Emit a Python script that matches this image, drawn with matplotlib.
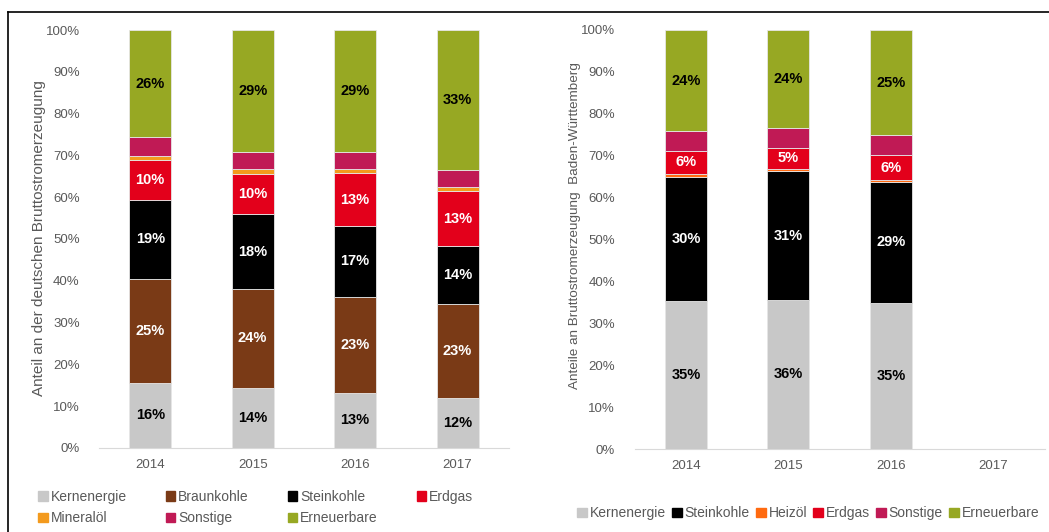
import matplotlib
matplotlib.use("Agg")
import matplotlib.pyplot as plt
from matplotlib.lines import Line2D
from matplotlib.patches import Patch
import numpy as np

plt.rcParams['font.family'] = ['Liberation Sans', 'DejaVu Sans']

# data (percent of gross electricity generation)
years = ['2014', '2015', '2016', '2017']

de_kern = [15.6, 14.4, 13.2, 11.9]
de_braun = [24.9, 23.7, 23.0, 22.6]
de_stein = [18.9, 17.8, 16.9, 13.7]
de_erdgas = [9.6, 9.6, 12.6, 13.3]
de_mineral = [0.8, 1.2, 1.0, 0.9]
de_sonst = [4.5, 4.0, 4.2, 4.2]
de_ern = [25.8, 29.3, 29.1, 33.4]

bw_kern = [35.4, 35.6, 34.9, np.nan]
bw_stein = [29.5, 30.6, 28.9, np.nan]
bw_heizoel = [0.7, 0.5, 0.3, np.nan]
bw_erdgas = [5.6, 5.2, 6.0, np.nan]
bw_sonst = [4.6, 4.6, 4.7, np.nan]
bw_ern = [24.2, 23.5, 25.2, np.nan]

C_KERN = '#c8c8c8'
C_BRAUN = '#7a3a16'
C_STEIN = '#000000'
C_ERDGAS = '#e3001b'
C_MINERAL = '#f39a1d'
C_HEIZOEL = '#ff6a10'
C_SONST = '#c01a55'
C_ERN = '#97a823'
GREY = '#595959'

de_series = [
    ('Kernenergie', de_kern, C_KERN, 'black'),
    ('Braunkohle', de_braun, C_BRAUN, 'white'),
    ('Steinkohle', de_stein, C_STEIN, 'white'),
    ('Erdgas', de_erdgas, C_ERDGAS, 'white'),
    ('Mineralöl', de_mineral, C_MINERAL, None),
    ('Sonstige', de_sonst, C_SONST, None),
    ('Erneuerbare', de_ern, C_ERN, 'black'),
]
bw_series = [
    ('Kernenergie', bw_kern, C_KERN, 'black'),
    ('Steinkohle', bw_stein, C_STEIN, 'white'),
    ('Heizöl', bw_heizoel, C_HEIZOEL, None),
    ('Erdgas', bw_erdgas, C_ERDGAS, 'white'),
    ('Sonstige', bw_sonst, C_SONST, None),
    ('Erneuerbare', bw_ern, C_ERN, 'black'),
]


def stacked(ax, series, ylabel, label_size):
    x = np.arange(len(years))
    bottom = np.zeros(len(years))
    for name, vals, col, txtcol in series:
        v = np.array(vals, dtype=float)
        ax.bar(x, np.nan_to_num(v), 0.41, bottom=bottom, color=col,
               edgecolor='#e6e6e6', linewidth=0.6, label=name)
        if txtcol:
            for i, val in enumerate(v):
                if np.isnan(val):
                    continue
                ax.text(x[i], bottom[i] + val / 2, f"{val:.0f}%", ha='center',
                        va='center', color=txtcol, fontsize=10.5, fontweight='bold')
        bottom += np.nan_to_num(v)
    ax.set_xlim(-0.5, len(years) - 0.5)
    ax.set_ylim(0, 100)
    ax.set_xticks(x)
    ax.set_xticklabels(years)
    ax.set_yticks(range(0, 101, 10))
    ax.set_yticklabels([f"{t}%" for t in range(0, 101, 10)])
    for s in ['top', 'right', 'left']:
        ax.spines[s].set_visible(False)
    ax.spines['bottom'].set_color('#d9d9d9')
    ax.tick_params(axis='both', length=0, colors=GREY, labelsize=9.5, pad=8)
    ax.tick_params(axis='y', pad=14)
    ax.set_ylabel(ylabel, color=GREY, fontsize=label_size)


fig = plt.figure(figsize=(10.49, 5.32), dpi=100)
ax1 = fig.add_axes([0.0944, 0.158, 0.3906, 0.7856])
ax2 = fig.add_axes([0.605, 0.156, 0.391, 0.788])

stacked(ax1, de_series, 'Anteil an der deutschen Bruttostromerzeugung', 11)
stacked(ax2, bw_series, 'Anteile an Bruttostromerzeugung  Baden-Württemberg', 9.7)
ax1.yaxis.set_label_coords(-0.13, 0.502)
ax2.yaxis.set_label_coords(-0.132, 0.533)

# legend is filled column-wise, so order handles to read row-wise
h1 = [Patch(color=c, label=n) for n, _, c, _ in de_series]
order = [0, 4, 1, 5, 2, 6, 3]
fig.legend(handles=[h1[i] for i in order], loc='upper left',
           bbox_to_anchor=(0.031, 0.09), ncol=4,
           frameon=False, fontsize=10, labelcolor=GREY, handlelength=0.7,
           handleheight=0.7, handletextpad=0.2, columnspacing=2.8,
           borderaxespad=0, labelspacing=0.55)
h2 = [Patch(color=c, label=n) for n, _, c, _ in bw_series]
fig.legend(handles=h2, loc='center left', bbox_to_anchor=(0.545, 0.035), ncol=6,
           frameon=False, fontsize=10, labelcolor=GREY, handlelength=0.7,
           handleheight=0.7, handletextpad=0.2, columnspacing=0.45,
           borderaxespad=0)

# frame lines
fig.add_artist(Line2D([0.0076, 1.0], [0.977, 0.977], color='black', lw=1.2))
fig.add_artist(Line2D([0.0076, 0.0076], [0.0, 0.977], color='black', lw=1.2))

fig.savefig('out.png', dpi=100)
